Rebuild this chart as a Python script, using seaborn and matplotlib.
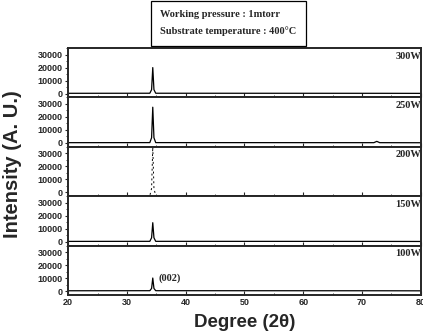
import matplotlib
matplotlib.use("Agg")
import matplotlib.pyplot as plt
import seaborn as sns
import pandas as pd
from matplotlib.ticker import MultipleLocator

sns.set_style("ticks")

powers = ["300W", "250W", "200W", "150W", "100W"]
two_theta = [20, 33.9, 34.2, 34.4, 34.6, 34.9, 72.0, 72.5, 73.0, 80]
i_300 = [200, 250, 3000, 20000, 3000, 250, 200, 200, 200, 150]
i_250 = [200, 250, 4000, 27500, 4000, 250, 200, 1200, 200, 150]
i_200 = [-2600, -2600, 3000, 35000, 3000, -2600, -2600, -2600, -2600, -2600]
i_150 = [200, 250, 3000, 14600, 3000, 250, 200, 200, 200, 150]
i_100 = [200, 250, 2000, 10000, 2000, 250, 200, 200, 200, 150]
series = [i_300, i_250, i_200, i_150, i_100]
x_ticks = [20, 30, 40, 50, 60, 70, 80]
y_ticks = [0, 10000, 20000, 30000]

fig = plt.figure(figsize=(4.23, 3.34), dpi=100)
gs = fig.add_gridspec(5, 1, left=0.161, right=0.995, top=0.856, bottom=0.117, hspace=0)
axes = [fig.add_subplot(gs[i, 0]) for i in range(5)]

for ax, p, vals in zip(axes, powers, series):
    df = pd.DataFrame({"x": two_theta, "y": vals})
    if p == "200W":
        sns.lineplot(data=df, x="x", y="y", ax=ax, color="black", lw=0.7, linestyle=(0, (2, 3)))
    else:
        sns.lineplot(data=df, x="x", y="y", ax=ax, color="black", lw=0.9)
    ax.set_xlim(20, 80)
    ax.set_ylim(-3000, 35000)
    ax.set_xticks(x_ticks)
    ax.xaxis.set_minor_locator(MultipleLocator(5))
    ax.set_yticks(y_ticks)
    ax.yaxis.set_minor_locator(MultipleLocator(5000))
    ax.set_xlabel("")
    ax.set_ylabel("")
    for s in ax.spines.values():
        s.set_linewidth(1.4)
    ax.tick_params(axis="y", which="major", direction="out", length=2.5, width=0.8, pad=1.2)
    ax.tick_params(axis="y", which="minor", direction="out", length=1.3, width=0.6)
    ax.tick_params(axis="x", which="major", direction="in", length=3, width=0.8, pad=2)
    ax.tick_params(axis="x", which="minor", direction="in", length=1.5, width=0.6)
    for lab in ax.get_yticklabels():
        lab.set_fontfamily("Liberation Sans")
        lab.set_fontweight("bold")
        lab.set_fontsize(6.5)
    if ax is not axes[-1]:
        ax.set_xticklabels([])
    else:
        for lab in ax.get_xticklabels():
            lab.set_fontfamily("Liberation Sans")
            lab.set_fontweight("bold")
            lab.set_fontsize(6.5)
    ax.text(1.0, 0.93, p, transform=ax.transAxes, ha="right", va="top",
            fontfamily="Liberation Serif", fontweight="bold", fontsize=7.5)

axes[-1].text(35.4, 10000, "(002)", ha="left", va="center",
              fontfamily="Liberation Serif", fontweight="bold", fontsize=7.5)

fig.text(0.029, 0.509, "Intensity (A. U.)", rotation=90,
         ha="center", va="center", fontfamily="Liberation Sans",
         fontweight="bold", fontsize=14.5)
fig.text(0.578, 0.035, "Degree (2θ)", ha="center", va="center",
         fontfamily="Liberation Sans", fontweight="bold", fontsize=13.5)

fig.text(0.54, 0.93, "Working pressure : 1mtorr\nSubstrate temperature : 400°C",
         ha="center", va="center", fontfamily="Liberation Serif", fontweight="bold",
         fontsize=7.5, linespacing=1.9, multialignment="left",
         bbox=dict(boxstyle="square,pad=0.9", fc="white", ec="black", lw=0.9))

fig.savefig("out.png", dpi=100)
